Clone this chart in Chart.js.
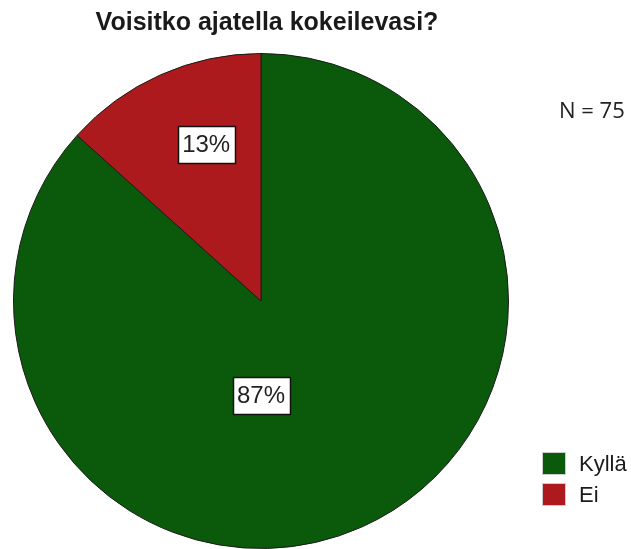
<!DOCTYPE html>
<html><head><meta charset="utf-8">
<script src="https://cdn.jsdelivr.net/npm/chart.js@4"></script>
<style>html,body{margin:0;padding:0;background:#fff;}#wrap{width:631px;height:549px;}</style>
</head><body><div id="wrap"><canvas id="c" width="631" height="549"></canvas></div>
<script>
const categories = ["Kyllä", "Ei"];
const counts = [65, 10];
const percentLabels = ["87%", "13%"];
const titleText = "Voisitko ajatella kokeilevasi?";
const nText = "N = 75";
const colors = ["#0b5a0b", "#ad1a1d"];

const textPlugin = {
  id: 'textPlugin',
  afterDraw(chart) {
    const ctx = chart.ctx;
    const meta = chart.getDatasetMeta(0);
    const rFrac = [0.383, 0.67];
    const shiftDeg = [24, 4.7];
    ctx.save();
    meta.data.forEach((arc, i) => {
      const mid = (arc.startAngle + arc.endAngle) / 2 + shiftDeg[i] * Math.PI / 180;
      const r = arc.outerRadius * rFrac[i];
      const x = arc.x + Math.cos(mid) * r;
      const y = arc.y + Math.sin(mid) * r;
      ctx.font = '24px "Liberation Sans", Arial, sans-serif';
      const t = percentLabels[i];
      const w = Math.round(ctx.measureText(t).width + 9);
      const h = 37;
      const bx = Math.round(x - w / 2) + 0.5, by = Math.round(y - h / 2) + 0.5;
      ctx.fillStyle = '#fff';
      ctx.fillRect(bx, by, w, h);
      ctx.strokeStyle = '#111';
      ctx.lineWidth = 1.5;
      ctx.strokeRect(bx, by, w, h);
      ctx.fillStyle = '#222';
      ctx.textAlign = 'center';
      ctx.textBaseline = 'middle';
      ctx.fillText(t, x, y + 1);
    });
    // title
    ctx.font = 'bold 25px "Liberation Sans", Arial, sans-serif';
    ctx.fillStyle = '#1a1a1a';
    ctx.textAlign = 'center';
    ctx.textBaseline = 'middle';
    ctx.fillText(titleText, 267, 23);
    // N
    ctx.font = '22px "Open Sans", "DejaVu Sans", sans-serif';
    ctx.fillStyle = '#222';
    ctx.textAlign = 'left';
    ctx.fillText(nText, 559, 112);
    // legend
    categories.forEach((c, i) => {
      const y0 = 452 + i * 31;
      ctx.fillStyle = colors[i];
      ctx.fillRect(542, y0, 24, 23);
      ctx.strokeStyle = '#ccc';
      ctx.lineWidth = 1;
      ctx.strokeRect(542.5, y0 + 0.5, 23, 22);
      ctx.fillStyle = '#1a1a1a';
      ctx.font = '22px "Liberation Sans", Arial, sans-serif';
      ctx.textAlign = 'left';
      ctx.fillText(c, 579, y0 + 13);
    });
    ctx.restore();
  }
};

new Chart(document.getElementById('c'), {
  type: 'pie',
  data: {
    labels: categories,
    datasets: [{
      data: counts,
      backgroundColor: colors,
      borderColor: '#1a1a1a',
      borderWidth: 1
    }]
  },
  options: {
    responsive: false,
    animation: false,
    layout: { padding: { left: 12, right: 121, top: 53, bottom: 0 } },
    plugins: { legend: { display: false }, title: { display: false }, tooltip: { enabled: false } }
  },
  plugins: [textPlugin]
});
</script>
</body></html>
